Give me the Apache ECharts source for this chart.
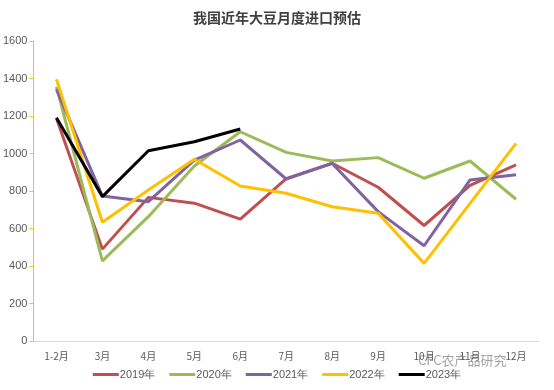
<!DOCTYPE html>
<html><head><meta charset="utf-8">
<script src="https://cdn.jsdelivr.net/npm/echarts@6/dist/echarts.min.js"></script>
<style>html,body{margin:0;padding:0;background:#fff}#c{width:554px;height:390px}</style>
</head><body><div id="c"></div>
<script>
const categories = ['1-2月','3月','4月','5月','6月','7月','8月','9月','10月','11月','12月'];
const s2019 = [1188, 490, 766, 735, 650, 866, 948, 820, 616, 830, 939];
const s2020 = [1356, 427, 663, 933, 1116, 1006, 960, 978, 868, 960, 756];
const s2021 = [1342, 773, 743, 965, 1072, 864, 947, 690, 508, 859, 887];
const s2022 = [1396, 633, 805, 969, 827, 788, 716, 681, 414, 734, 1054];
const s2023 = [1191, 770, 1015, 1063, 1131];
const seriesNames = ['2019年','2020年','2021年','2022年','2023年'];
const colors = ['#C0504D','#9BBB59','#8064A2','#FFC000','#000000'];
const yTicks = {min:0, max:1600, interval:200};

const chart = echarts.init(document.getElementById('c'));
const allData = [s2019, s2020, s2021, s2022, s2023];
chart.setOption({
  animation:false,
  title:{text:'我国近年大豆月度进口预估', left:'center', top:6,
    textStyle:{fontFamily:'Noto Sans CJK SC', fontSize:14, fontWeight:'bold', color:'#404040'}},
  grid:{left:32, right:15, top:41, bottom:49},
  legend:{bottom:5, left:'center', itemWidth:26, itemHeight:3, itemGap:14,
    icon:'rect',
    textStyle:{fontFamily:'Liberation Sans', fontSize:11, color:'#595959', padding:[0,0,0,-4]},
    data:seriesNames},
  xAxis:{type:'category', data:categories, boundaryGap:true,
    axisLine:{lineStyle:{color:'#D9D9D9', width:1}},
    axisTick:{show:false},
    axisLabel:{color:'#595959', fontSize:10, fontFamily:'Noto Sans CJK SC', margin:10}},
  yAxis:{type:'value', min:yTicks.min, max:yTicks.max, interval:yTicks.interval,
    axisLine:{show:true, lineStyle:{color:'#FFC000', width:1}},
    axisTick:{show:true, length:4, lineStyle:{color:'#FFC000'}},
    splitLine:{show:false},
    axisLabel:{color:'#595959', fontSize:11, fontFamily:'Liberation Sans', margin:6,
      formatter:v=>String(v)}},
  series: seriesNames.map((n,i)=>({
    name:n, type:'line', data:allData[i], symbol:'none',
    lineStyle:{width:3, color:colors[i]}, itemStyle:{color:colors[i]}
  })),
  graphic:[{type:'text', left:418, top:354,
    style:{text:'CFC农产品研究', fill:'#8c8c8c', font:'13px "Noto Sans CJK SC"', opacity:0.8}}]
});
</script></body></html>
